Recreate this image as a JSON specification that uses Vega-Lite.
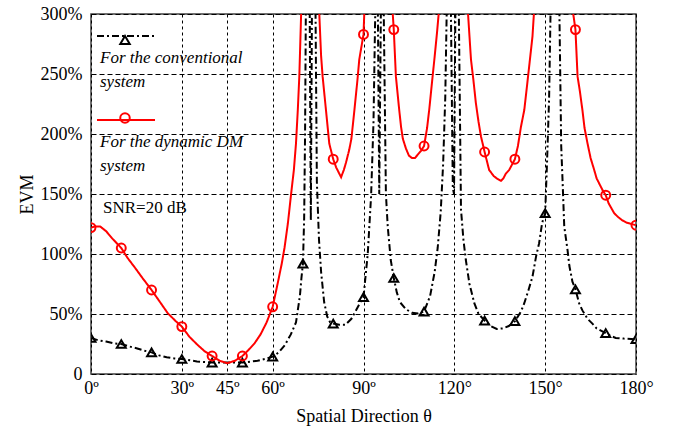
{
  "$schema": "https://vega.github.io/schema/vega-lite/v6.json",
  "width": 545,
  "height": 360,
  "autosize": {"type": "none"},
  "padding": {"left": 91, "top": 14, "right": 47, "bottom": 60},
  "background": "white",
  "config": {
    "font": "Liberation Serif",
    "view": {"stroke": "#404040", "strokeWidth": 1.5}
  },
  "datasets": {
    "curves": [
      {"series": "conventional", "theta": 0, "evm": 30},
      {"series": "conventional", "theta": 2.5, "evm": 28},
      {"series": "conventional", "theta": 5, "evm": 27},
      {"series": "conventional", "theta": 7.5, "evm": 25.5},
      {"series": "conventional", "theta": 10, "evm": 25},
      {"series": "conventional", "theta": 12.5, "evm": 23},
      {"series": "conventional", "theta": 15, "evm": 21.5},
      {"series": "conventional", "theta": 17.5, "evm": 19.5},
      {"series": "conventional", "theta": 20, "evm": 18},
      {"series": "conventional", "theta": 22.5, "evm": 15.5},
      {"series": "conventional", "theta": 25, "evm": 14},
      {"series": "conventional", "theta": 27.5, "evm": 13},
      {"series": "conventional", "theta": 30, "evm": 12.5},
      {"series": "conventional", "theta": 35, "evm": 10.5},
      {"series": "conventional", "theta": 40, "evm": 9.5},
      {"series": "conventional", "theta": 45, "evm": 9.5},
      {"series": "conventional", "theta": 50, "evm": 9.5},
      {"series": "conventional", "theta": 55, "evm": 11},
      {"series": "conventional", "theta": 57.5, "evm": 12.5},
      {"series": "conventional", "theta": 60, "evm": 14.5},
      {"series": "conventional", "theta": 62, "evm": 18},
      {"series": "conventional", "theta": 64, "evm": 24},
      {"series": "conventional", "theta": 66, "evm": 33},
      {"series": "conventional", "theta": 67.7, "evm": 43},
      {"series": "conventional", "theta": 69, "evm": 65},
      {"series": "conventional", "theta": 69.5, "evm": 80},
      {"series": "conventional", "theta": 70, "evm": 92},
      {"series": "conventional", "theta": 70.4, "evm": 130},
      {"series": "conventional", "theta": 70.7, "evm": 200},
      {"series": "conventional", "theta": 71, "evm": 320},
      {"series": "conventional", "theta": 72.2, "evm": 320},
      {"series": "conventional", "theta": 72.6, "evm": 128},
      {"series": "conventional", "theta": 73.0, "evm": 320},
      {"series": "conventional", "theta": 74.1, "evm": 320},
      {"series": "conventional", "theta": 74.6, "evm": 160},
      {"series": "conventional", "theta": 75.3, "evm": 112},
      {"series": "conventional", "theta": 76, "evm": 85},
      {"series": "conventional", "theta": 77, "evm": 60},
      {"series": "conventional", "theta": 78, "evm": 48},
      {"series": "conventional", "theta": 79, "evm": 43},
      {"series": "conventional", "theta": 80, "evm": 42},
      {"series": "conventional", "theta": 82, "evm": 41},
      {"series": "conventional", "theta": 84, "evm": 41},
      {"series": "conventional", "theta": 86, "evm": 46},
      {"series": "conventional", "theta": 87.5, "evm": 53},
      {"series": "conventional", "theta": 89, "evm": 60},
      {"series": "conventional", "theta": 90, "evm": 64},
      {"series": "conventional", "theta": 91.4, "evm": 100},
      {"series": "conventional", "theta": 92.5, "evm": 148},
      {"series": "conventional", "theta": 93.3, "evm": 210},
      {"series": "conventional", "theta": 94, "evm": 320},
      {"series": "conventional", "theta": 94.7, "evm": 320},
      {"series": "conventional", "theta": 95.2, "evm": 150},
      {"series": "conventional", "theta": 95.8, "evm": 320},
      {"series": "conventional", "theta": 96.6, "evm": 320},
      {"series": "conventional", "theta": 97.4, "evm": 150},
      {"series": "conventional", "theta": 98, "evm": 123},
      {"series": "conventional", "theta": 99, "evm": 95},
      {"series": "conventional", "theta": 100, "evm": 80},
      {"series": "conventional", "theta": 101, "evm": 68},
      {"series": "conventional", "theta": 102, "evm": 60},
      {"series": "conventional", "theta": 104, "evm": 54},
      {"series": "conventional", "theta": 106, "evm": 51},
      {"series": "conventional", "theta": 108, "evm": 50.5},
      {"series": "conventional", "theta": 110, "evm": 52},
      {"series": "conventional", "theta": 112, "evm": 65},
      {"series": "conventional", "theta": 113.5, "evm": 85},
      {"series": "conventional", "theta": 114.5, "evm": 105},
      {"series": "conventional", "theta": 115.5, "evm": 135},
      {"series": "conventional", "theta": 116.3, "evm": 175},
      {"series": "conventional", "theta": 117, "evm": 230},
      {"series": "conventional", "theta": 117.6, "evm": 320},
      {"series": "conventional", "theta": 118.8, "evm": 320},
      {"series": "conventional", "theta": 119.5, "evm": 155},
      {"series": "conventional", "theta": 119.9, "evm": 150},
      {"series": "conventional", "theta": 120.4, "evm": 320},
      {"series": "conventional", "theta": 121.4, "evm": 320},
      {"series": "conventional", "theta": 122.2, "evm": 137},
      {"series": "conventional", "theta": 123, "evm": 112},
      {"series": "conventional", "theta": 123.8, "evm": 95},
      {"series": "conventional", "theta": 125, "evm": 75},
      {"series": "conventional", "theta": 126.6, "evm": 59},
      {"series": "conventional", "theta": 128, "evm": 50},
      {"series": "conventional", "theta": 130, "evm": 44.5},
      {"series": "conventional", "theta": 132, "evm": 40},
      {"series": "conventional", "theta": 134, "evm": 37.5},
      {"series": "conventional", "theta": 136, "evm": 38},
      {"series": "conventional", "theta": 138, "evm": 40},
      {"series": "conventional", "theta": 140, "evm": 44},
      {"series": "conventional", "theta": 142, "evm": 52},
      {"series": "conventional", "theta": 143.1, "evm": 59},
      {"series": "conventional", "theta": 144.5, "evm": 70},
      {"series": "conventional", "theta": 145.8, "evm": 81},
      {"series": "conventional", "theta": 147, "evm": 98},
      {"series": "conventional", "theta": 148, "evm": 109},
      {"series": "conventional", "theta": 149, "evm": 126},
      {"series": "conventional", "theta": 150, "evm": 134},
      {"series": "conventional", "theta": 150.6, "evm": 175},
      {"series": "conventional", "theta": 151.3, "evm": 230},
      {"series": "conventional", "theta": 151.9, "evm": 320},
      {"series": "conventional", "theta": 154.6, "evm": 320},
      {"series": "conventional", "theta": 155.3, "evm": 190},
      {"series": "conventional", "theta": 155.7, "evm": 164},
      {"series": "conventional", "theta": 156.3, "evm": 123},
      {"series": "conventional", "theta": 157.4, "evm": 103},
      {"series": "conventional", "theta": 158, "evm": 90},
      {"series": "conventional", "theta": 159, "evm": 77},
      {"series": "conventional", "theta": 160, "evm": 70.5},
      {"series": "conventional", "theta": 161.2, "evm": 59},
      {"series": "conventional", "theta": 162.3, "evm": 53},
      {"series": "conventional", "theta": 164, "evm": 46},
      {"series": "conventional", "theta": 165.6, "evm": 42},
      {"series": "conventional", "theta": 167, "evm": 38},
      {"series": "conventional", "theta": 170, "evm": 34},
      {"series": "conventional", "theta": 171.5, "evm": 32},
      {"series": "conventional", "theta": 173.3, "evm": 30},
      {"series": "conventional", "theta": 176, "evm": 29.5},
      {"series": "conventional", "theta": 180, "evm": 29},
      {"series": "dynamic", "theta": 0, "evm": 122},
      {"series": "dynamic", "theta": 1.5, "evm": 123},
      {"series": "dynamic", "theta": 3, "evm": 123},
      {"series": "dynamic", "theta": 5, "evm": 119},
      {"series": "dynamic", "theta": 7, "evm": 113},
      {"series": "dynamic", "theta": 8.5, "evm": 109},
      {"series": "dynamic", "theta": 10, "evm": 105},
      {"series": "dynamic", "theta": 12, "evm": 97},
      {"series": "dynamic", "theta": 14.4, "evm": 89},
      {"series": "dynamic", "theta": 17, "evm": 80},
      {"series": "dynamic", "theta": 20, "evm": 70},
      {"series": "dynamic", "theta": 22.5, "evm": 61},
      {"series": "dynamic", "theta": 25.4, "evm": 50.5},
      {"series": "dynamic", "theta": 28, "evm": 44},
      {"series": "dynamic", "theta": 30, "evm": 39.5},
      {"series": "dynamic", "theta": 32.5, "evm": 31},
      {"series": "dynamic", "theta": 35.3, "evm": 24},
      {"series": "dynamic", "theta": 37.5, "evm": 19},
      {"series": "dynamic", "theta": 40, "evm": 15},
      {"series": "dynamic", "theta": 42.5, "evm": 11},
      {"series": "dynamic", "theta": 45, "evm": 9},
      {"series": "dynamic", "theta": 47.5, "evm": 11},
      {"series": "dynamic", "theta": 50, "evm": 15},
      {"series": "dynamic", "theta": 52, "evm": 20},
      {"series": "dynamic", "theta": 54, "evm": 25.5},
      {"series": "dynamic", "theta": 56, "evm": 33},
      {"series": "dynamic", "theta": 58, "evm": 43},
      {"series": "dynamic", "theta": 60, "evm": 56},
      {"series": "dynamic", "theta": 61.7, "evm": 76},
      {"series": "dynamic", "theta": 63, "evm": 92},
      {"series": "dynamic", "theta": 63.9, "evm": 105},
      {"series": "dynamic", "theta": 65, "evm": 125},
      {"series": "dynamic", "theta": 66, "evm": 148},
      {"series": "dynamic", "theta": 67, "evm": 170},
      {"series": "dynamic", "theta": 67.7, "evm": 192},
      {"series": "dynamic", "theta": 68.3, "evm": 220},
      {"series": "dynamic", "theta": 68.8, "evm": 248},
      {"series": "dynamic", "theta": 69.4, "evm": 300},
      {"series": "dynamic", "theta": 69.8, "evm": 340},
      {"series": "dynamic", "theta": 75, "evm": 340},
      {"series": "dynamic", "theta": 75.4, "evm": 300},
      {"series": "dynamic", "theta": 76, "evm": 265},
      {"series": "dynamic", "theta": 76.5, "evm": 248},
      {"series": "dynamic", "theta": 77.6, "evm": 220},
      {"series": "dynamic", "theta": 78.7, "evm": 192},
      {"series": "dynamic", "theta": 80, "evm": 179},
      {"series": "dynamic", "theta": 81, "evm": 172},
      {"series": "dynamic", "theta": 82, "evm": 167},
      {"series": "dynamic", "theta": 82.6, "evm": 164},
      {"series": "dynamic", "theta": 83.5, "evm": 170},
      {"series": "dynamic", "theta": 84.2, "evm": 176},
      {"series": "dynamic", "theta": 85.3, "evm": 187},
      {"series": "dynamic", "theta": 86, "evm": 196},
      {"series": "dynamic", "theta": 87, "evm": 220},
      {"series": "dynamic", "theta": 88, "evm": 245},
      {"series": "dynamic", "theta": 88.6, "evm": 262},
      {"series": "dynamic", "theta": 90, "evm": 283},
      {"series": "dynamic", "theta": 90.4, "evm": 310},
      {"series": "dynamic", "theta": 99.4, "evm": 310},
      {"series": "dynamic", "theta": 100, "evm": 287},
      {"series": "dynamic", "theta": 100.7, "evm": 248},
      {"series": "dynamic", "theta": 101.8, "evm": 220},
      {"series": "dynamic", "theta": 102.4, "evm": 206},
      {"series": "dynamic", "theta": 103, "evm": 196},
      {"series": "dynamic", "theta": 104, "evm": 188},
      {"series": "dynamic", "theta": 105, "evm": 182},
      {"series": "dynamic", "theta": 106, "evm": 180},
      {"series": "dynamic", "theta": 107, "evm": 180},
      {"series": "dynamic", "theta": 108, "evm": 183},
      {"series": "dynamic", "theta": 109, "evm": 186},
      {"series": "dynamic", "theta": 110, "evm": 190},
      {"series": "dynamic", "theta": 111, "evm": 205},
      {"series": "dynamic", "theta": 111.7, "evm": 220},
      {"series": "dynamic", "theta": 112.5, "evm": 240},
      {"series": "dynamic", "theta": 113.4, "evm": 262},
      {"series": "dynamic", "theta": 114.3, "evm": 285},
      {"series": "dynamic", "theta": 115, "evm": 305},
      {"series": "dynamic", "theta": 124.4, "evm": 305},
      {"series": "dynamic", "theta": 125.5, "evm": 262},
      {"series": "dynamic", "theta": 126.3, "evm": 245},
      {"series": "dynamic", "theta": 127.1, "evm": 226},
      {"series": "dynamic", "theta": 128, "evm": 210},
      {"series": "dynamic", "theta": 128.8, "evm": 198},
      {"series": "dynamic", "theta": 130, "evm": 185},
      {"series": "dynamic", "theta": 131, "evm": 175},
      {"series": "dynamic", "theta": 131.5, "evm": 170},
      {"series": "dynamic", "theta": 133, "evm": 165},
      {"series": "dynamic", "theta": 134, "evm": 163},
      {"series": "dynamic", "theta": 135.4, "evm": 161},
      {"series": "dynamic", "theta": 136.2, "evm": 163},
      {"series": "dynamic", "theta": 137, "evm": 167},
      {"series": "dynamic", "theta": 138.1, "evm": 170},
      {"series": "dynamic", "theta": 140, "evm": 179},
      {"series": "dynamic", "theta": 141, "evm": 190},
      {"series": "dynamic", "theta": 142, "evm": 206},
      {"series": "dynamic", "theta": 143.1, "evm": 220},
      {"series": "dynamic", "theta": 144, "evm": 240},
      {"series": "dynamic", "theta": 144.7, "evm": 256},
      {"series": "dynamic", "theta": 145.8, "evm": 281},
      {"series": "dynamic", "theta": 146.4, "evm": 305},
      {"series": "dynamic", "theta": 159, "evm": 305},
      {"series": "dynamic", "theta": 160, "evm": 287},
      {"series": "dynamic", "theta": 160.7, "evm": 248},
      {"series": "dynamic", "theta": 161.5, "evm": 235},
      {"series": "dynamic", "theta": 162.3, "evm": 220},
      {"series": "dynamic", "theta": 163, "evm": 205},
      {"series": "dynamic", "theta": 164, "evm": 192},
      {"series": "dynamic", "theta": 165, "evm": 180},
      {"series": "dynamic", "theta": 166.2, "evm": 170},
      {"series": "dynamic", "theta": 167, "evm": 163},
      {"series": "dynamic", "theta": 167.8, "evm": 159},
      {"series": "dynamic", "theta": 169, "evm": 153},
      {"series": "dynamic", "theta": 170, "evm": 149},
      {"series": "dynamic", "theta": 171, "evm": 142},
      {"series": "dynamic", "theta": 172.8, "evm": 134},
      {"series": "dynamic", "theta": 174, "evm": 131},
      {"series": "dynamic", "theta": 175.5, "evm": 128},
      {"series": "dynamic", "theta": 177, "evm": 126},
      {"series": "dynamic", "theta": 180, "evm": 124}
    ],
    "markers": [
      {"series": "conventional", "theta": 0, "evm": 30},
      {"series": "conventional", "theta": 10, "evm": 25},
      {"series": "conventional", "theta": 20, "evm": 18},
      {"series": "conventional", "theta": 30, "evm": 12.5},
      {"series": "conventional", "theta": 40, "evm": 9.5},
      {"series": "conventional", "theta": 50, "evm": 9.5},
      {"series": "conventional", "theta": 60, "evm": 14.5},
      {"series": "conventional", "theta": 70, "evm": 92},
      {"series": "conventional", "theta": 80, "evm": 42},
      {"series": "conventional", "theta": 90, "evm": 64},
      {"series": "conventional", "theta": 100, "evm": 80},
      {"series": "conventional", "theta": 110, "evm": 52},
      {"series": "conventional", "theta": 130, "evm": 44.5},
      {"series": "conventional", "theta": 140, "evm": 44},
      {"series": "conventional", "theta": 150, "evm": 134},
      {"series": "conventional", "theta": 160, "evm": 70.5},
      {"series": "conventional", "theta": 170, "evm": 34},
      {"series": "conventional", "theta": 180, "evm": 29},
      {"series": "dynamic", "theta": 0, "evm": 122},
      {"series": "dynamic", "theta": 10, "evm": 105},
      {"series": "dynamic", "theta": 20, "evm": 70},
      {"series": "dynamic", "theta": 30, "evm": 39.5},
      {"series": "dynamic", "theta": 40, "evm": 15},
      {"series": "dynamic", "theta": 50, "evm": 15},
      {"series": "dynamic", "theta": 60, "evm": 56},
      {"series": "dynamic", "theta": 80, "evm": 179},
      {"series": "dynamic", "theta": 90, "evm": 283},
      {"series": "dynamic", "theta": 100, "evm": 287},
      {"series": "dynamic", "theta": 110, "evm": 190},
      {"series": "dynamic", "theta": 130, "evm": 185},
      {"series": "dynamic", "theta": 140, "evm": 179},
      {"series": "dynamic", "theta": 160, "evm": 287},
      {"series": "dynamic", "theta": 170, "evm": 149},
      {"series": "dynamic", "theta": 180, "evm": 124}
    ]
  },
  "layer": [
    {
      "data": {"name": "curves"},
      "mark": {"type": "line", "clip": true, "strokeWidth": 2},
      "encoding": {
        "x": {
          "field": "theta", "type": "quantitative",
          "scale": {"domain": [0, 180], "nice": false, "zero": false},
          "axis": {
            "values": [0, 30, 45, 60, 90, 120, 150, 180],
            "labelExpr": "datum.value + (datum.value >= 120 ? '°' : 'º')",
            "title": "Spatial Direction θ",
            "grid": true, "gridDash": [3, 3], "gridColor": "#000000", "gridWidth": 1, "gridOpacity": 1,
            "ticks": false, "domain": false,
            "labelFont": "Liberation Serif", "labelFontSize": 18, "labelColor": "#000000",
            "labelPadding": 5, "labelFlush": false, "labelOverlap": false,
            "titleFont": "Liberation Serif", "titleFontSize": 18, "titleFontWeight": "normal",
            "titleColor": "#000000", "titlePadding": 10
          }
        },
        "y": {
          "field": "evm", "type": "quantitative",
          "scale": {"domain": [0, 300], "nice": false},
          "axis": {
            "values": [0, 50, 100, 150, 200, 250, 300],
            "labelExpr": "datum.value == 0 ? '0' : datum.value + '%'",
            "title": "EVM",
            "grid": true, "gridDash": [5, 3], "gridColor": "#000000", "gridWidth": 1, "gridOpacity": 1,
            "ticks": false, "domain": false,
            "labelFont": "Liberation Serif", "labelFontSize": 18, "labelColor": "#000000",
            "labelPadding": 9, "labelFlush": false, "labelOverlap": false,
            "titleFont": "Liberation Serif", "titleFontSize": 18, "titleFontWeight": "normal",
            "titleColor": "#000000", "titlePadding": 4
          }
        },
        "color": {
          "field": "series", "type": "nominal",
          "scale": {"range": ["#000000", "#ff0000"]},
          "legend": {
            "orient": "none", "legendX": 5, "legendY": -8, "padding": 0,
            "title": "SNR=20 dB", "titleOrient": "bottom", "titleAnchor": "start",
            "titleFont": "Liberation Serif", "titleFontSize": 17, "titleFontWeight": "normal",
            "titleColor": "#000000", "titlePadding": 26,
            "symbolType": "stroke", "symbolSize": 3364, "symbolStrokeWidth": 2,
            "labelFont": "Liberation Serif", "labelFontStyle": "italic", "labelFontSize": 17,
            "labelColor": "#000000", "labelBaseline": "top", "labelOffset": -56, "labelLimit": 400,
            "labelExpr": "datum.label == 'conventional' ? ['For the conventional', 'system'] : ['For the dynamic DM', 'system']",
            "rowPadding": -3,
            "encode": {
              "labels": {"update": {"dy": {"value": 14}, "lineHeight": {"value": 24}}},
              "title": {"update": {"dx": {"value": 7}}}
            }
          }
        },
        "strokeDash": {
          "field": "series", "type": "nominal",
          "scale": {"range": [[7, 3, 2, 3], [1, 0]]},
          "legend": {
            "orient": "none", "legendX": 5, "legendY": -8, "padding": 0,
            "title": "SNR=20 dB", "titleOrient": "bottom", "titleAnchor": "start",
            "titleFont": "Liberation Serif", "titleFontSize": 17, "titleFontWeight": "normal",
            "titleColor": "#000000", "titlePadding": 26,
            "symbolType": "stroke", "symbolSize": 3364, "symbolStrokeWidth": 2,
            "labelFont": "Liberation Serif", "labelFontStyle": "italic", "labelFontSize": 17,
            "labelColor": "#000000", "labelBaseline": "top", "labelOffset": -56, "labelLimit": 400,
            "labelExpr": "datum.label == 'conventional' ? ['For the conventional', 'system'] : ['For the dynamic DM', 'system']",
            "rowPadding": -3,
            "encode": {
              "labels": {"update": {"dy": {"value": 14}, "lineHeight": {"value": 24}}},
              "title": {"update": {"dx": {"value": 7}}}
            }
          }
        }
      }
    },
    {
      "data": {"name": "markers"},
      "mark": {"type": "point", "filled": false, "size": 80, "strokeWidth": 2, "clip": true, "opacity": 1},
      "encoding": {
        "x": {"field": "theta", "type": "quantitative"},
        "y": {"field": "evm", "type": "quantitative"},
        "stroke": {
          "field": "series", "type": "nominal",
          "scale": {"range": ["#000000", "#ff0000"]},
          "legend": {
            "orient": "none", "legendX": 28, "legendY": 20, "padding": 0, "title": null,
            "symbolSize": 90, "symbolStrokeWidth": 2,
            "labelExpr": "''", "labelFontSize": 1, "rowPadding": 60
          }
        },
        "shape": {
          "field": "series", "type": "nominal",
          "scale": {"range": ["triangle-up", "circle"]},
          "legend": {
            "orient": "none", "legendX": 28, "legendY": 20, "padding": 0, "title": null,
            "symbolSize": 90, "symbolStrokeWidth": 2,
            "labelExpr": "''", "labelFontSize": 1, "rowPadding": 60
          }
        }
      }
    }
  ]
}
